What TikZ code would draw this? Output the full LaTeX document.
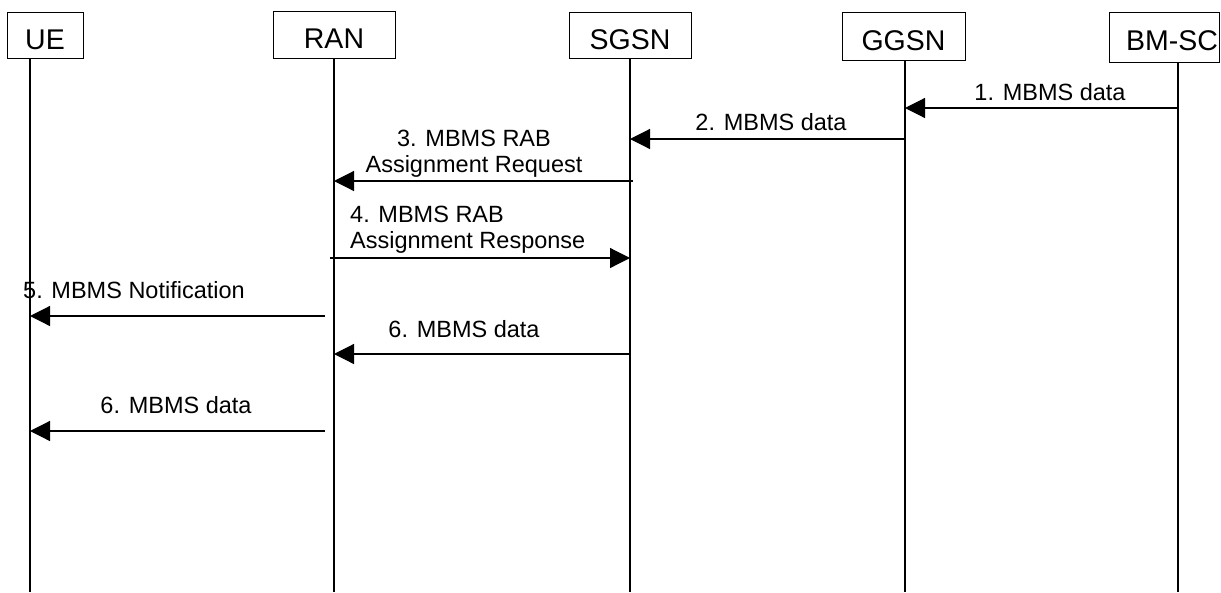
\documentclass[tikz,border=0pt]{standalone}
\usepackage{fontspec}
\setmainfont{Liberation Sans}
\usetikzlibrary{arrows.meta}
\tikzset{
  entity/.style={draw=black, line width=1pt, minimum height=46pt, inner sep=0pt},
  entlabel/.style={inner sep=0pt, anchor=base, font=\fontsize{28.5}{30}\selectfont},
  life/.style={draw=black, line width=1.1pt},
  msg/.style={draw=black, line width=1.2pt, -{Triangle[length=20pt,width=20pt]}},
  msglabel/.style={inner sep=0pt, anchor=base, align=center, font=\fontsize{23.5}{26}\selectfont},
  msglabelL/.style={inner sep=0pt, anchor=base west, align=left, font=\fontsize{23.5}{26}\selectfont}
}
\begin{document}
\begin{tikzpicture}[x=1pt, y=-1pt]
\useasboundingbox (0,0) rectangle (1221,592);
% entity boxes
\node[entity, minimum width=76pt] (ue) at (45,35) {};
\node[entity, minimum width=122pt, minimum height=47pt] (ran) at (334,34.5) {};
\node[entity, minimum width=122pt] (sgsn) at (630,35.5) {};
\node[entity, minimum width=123pt, minimum height=48pt] (ggsn) at (903.5,36.5) {};
\node[entity, minimum width=110pt, minimum height=50pt] (bmsc) at (1164,37.5) {};
\node[entlabel] (uelabel) at (45,49) {UE};
\node[entlabel] (ranlabel) at (334,48) {RAN};
\node[entlabel] (sgsnlabel) at (630,49.5) {SGSN};
\node[entlabel] (ggsnlabel) at (903.5,50) {GGSN};
\node[entlabel] (bmsclabel) at (1172,50) {BM-SC};
% lifelines
\coordinate (ueT) at (30,58);   \coordinate (ueB) at (30,592);
\coordinate (ranT) at (334,58); \coordinate (ranB) at (334,592);
\coordinate (sgsnT) at (630,58); \coordinate (sgsnB) at (630,592);
\coordinate (ggsnT) at (905,60); \coordinate (ggsnB) at (905,592);
\coordinate (bmscT) at (1178,62); \coordinate (bmscB) at (1178,592);
\draw[life] (ueT) -- (ueB);
\draw[life] (ranT) -- (ranB);
\draw[life] (sgsnT) -- (sgsnB);
\draw[life] (ggsnT) -- (ggsnB);
\draw[life] (bmscT) -- (bmscB);
% message end points
\coordinate (m1s) at (1178,108); \coordinate (m1e) at (905,108);
\coordinate (m2s) at (905,139);  \coordinate (m2e) at (630,139);
\coordinate (m3s) at (633,181);  \coordinate (m3e) at (334,181);
\coordinate (m4s) at (330,258);  \coordinate (m4e) at (630,258);
\coordinate (m5s) at (325,316);  \coordinate (m5e) at (30,316);
\coordinate (m6s) at (630,354);  \coordinate (m6e) at (334,354);
\coordinate (m7s) at (325,431);  \coordinate (m7e) at (30,431);
% messages
\draw[msg] (m1s) -- (m1e);
\draw[msg] (m2s) -- (m2e);
\draw[msg] (m3s) -- (m3e);
\draw[msg] (m4s) -- (m4e);
\draw[msg] (m5s) -- (m5e);
\draw[msg] (m6s) -- (m6e);
\draw[msg] (m7s) -- (m7e);
% labels
\node[msglabel] (l1) at (1050,100) {1. MBMS data};
\node[msglabel] (l2) at (771,130) {2. MBMS data};
\node[msglabel] (l3) at (474,172) {3. MBMS RAB\\Assignment Request};
\node[msglabelL] (l4) at (350,248) {4. MBMS RAB\\Assignment Response};
\node[msglabelL] (l5) at (23,298) {5. MBMS Notification};
\node[msglabel] (l6) at (464,337) {6. MBMS data};
\node[msglabel] (l7) at (176,413) {6. MBMS data};
\end{tikzpicture}
\end{document}
